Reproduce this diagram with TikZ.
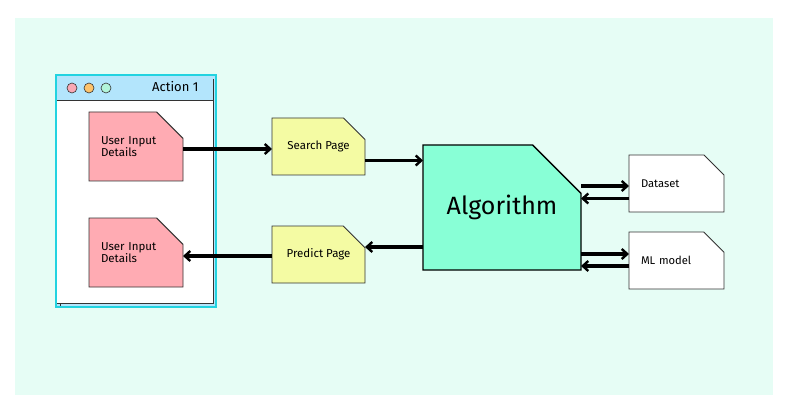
\documentclass[tikz,border=0pt]{standalone}
\usepackage{fontspec}
\setmainfont{Fira Sans}
\usetikzlibrary{arrows.meta,shapes.misc}
\definecolor{bgmint}{HTML}{E6FDF5}
\definecolor{uipink}{HTML}{FFABB3}
\definecolor{pageyel}{HTML}{F4FBA3}
\definecolor{algomint}{HTML}{88FFD6}
\definecolor{titleblue}{HTML}{B3E5FC}
\definecolor{wincyan}{HTML}{22D3E0}
\definecolor{dotpink}{HTML}{F9A8B4}
\definecolor{dotorange}{HTML}{FDC36B}
\definecolor{dotmint}{HTML}{B2F5DA}
\definecolor{edge}{HTML}{333333}
\tikzset{
  doc/.style={chamfered rectangle, chamfered rectangle corners=north east,
    draw=edge, line width=0.9pt, inner sep=0pt, outer sep=0pt},
  uibox/.style={doc, fill=uipink, minimum width=94pt, minimum height=69pt,
    chamfered rectangle xsep=16pt, chamfered rectangle ysep=16pt,
    text width=70pt, align=left, font=\fontsize{11.5}{12.7}\selectfont},
  pagebox/.style={doc, fill=pageyel, minimum width=93pt, minimum height=57pt,
    chamfered rectangle xsep=13pt, chamfered rectangle ysep=16pt,
    font=\fontsize{11.5}{13}\selectfont},
  databox/.style={doc, fill=white, minimum width=95pt, minimum height=57pt,
    chamfered rectangle xsep=16pt, chamfered rectangle ysep=16pt,
    text width=71pt, align=left, font=\fontsize{11.2}{13}\selectfont},
  algobox/.style={doc, fill=algomint, line width=1.3pt, draw=black,
    minimum width=158pt, minimum height=125pt,
    chamfered rectangle xsep=36pt, chamfered rectangle ysep=36pt,
    font=\fontsize{25}{28}\selectfont},
  arr/.style={-{Straight Barb[length=5.5pt,width=10pt,line width=2.4pt]}, line width=3.1pt, black},
  dot/.style={circle, draw=edge, line width=0.6pt, minimum size=10pt, inner sep=0pt}
}
\begin{document}
\begin{tikzpicture}[x=1pt,y=-1pt]
\useasboundingbox (0,0) rectangle (792,414);
\fill[bgmint] (15,18) rectangle (773,395);
% window
\node[draw=wincyan, fill=titleblue, line width=2pt, minimum width=160pt, minimum height=232pt, inner sep=0pt] (win) at (136,191) {};
\fill[white] (57,100) rectangle (213,303);
\draw[edge, line width=0.8pt] (57,100) -- (213,100);
\draw[edge, line width=0.8pt] (213,79) -- (213,303) -- (57,303);
\draw[edge, line width=0.8pt] (60,303) -- (60,306);
\node[dot, fill=dotpink] (d1) at (72,88) {};
\node[dot, fill=dotorange] (d2) at (89,88) {};
\node[dot, fill=dotmint] (d3) at (106,88) {};
\node[font=\fontsize{13}{15}\selectfont, anchor=east] (title) at (202,87) {Action 1};
% boxes
\node[uibox] (ui1) at (136,146.5) {User Input\\Details};
\node[uibox] (ui2) at (136,252.5) {User Input\\Details};
\node[pagebox] (search) at (318.5,146.5) {Search Page};
\node[pagebox] (predict) at (318.5,254.5) {Predict Page};
\node[algobox] (algo) at (502,207.5) {Algorithm};
\node[databox] (data) at (676.5,183.5) {Dataset};
\node[databox] (ml) at (676.5,260.5) {ML model};
% arrows
\draw[arr] ([yshift=-2.5pt]ui1.east) -- ([yshift=-2.5pt]search.west);
\draw[arr] ([yshift=-14pt]search.east) coordinate (s1) -- (s1 -| algo.west);
\draw[arr] ([yshift=7.5pt]predict.east -| algo.west) -- ([yshift=7.5pt]predict.east);
\draw[arr] ([yshift=-1.5pt]predict.west) coordinate (p1) -- (p1 -| ui2.east);
\draw[arr] ([yshift=-2.5pt]data.west -| algo.east) -- ([yshift=-2.5pt]data.west);
\draw[arr] ([yshift=-15pt]data.west) coordinate (q1) -- (q1 -| algo.east);
\draw[arr] ([yshift=6.5pt]ml.west -| algo.east) -- ([yshift=6.5pt]ml.west);
\draw[arr] ([yshift=-5.5pt]ml.west) coordinate (q2) -- (q2 -| algo.east);
\end{tikzpicture}
\end{document}
